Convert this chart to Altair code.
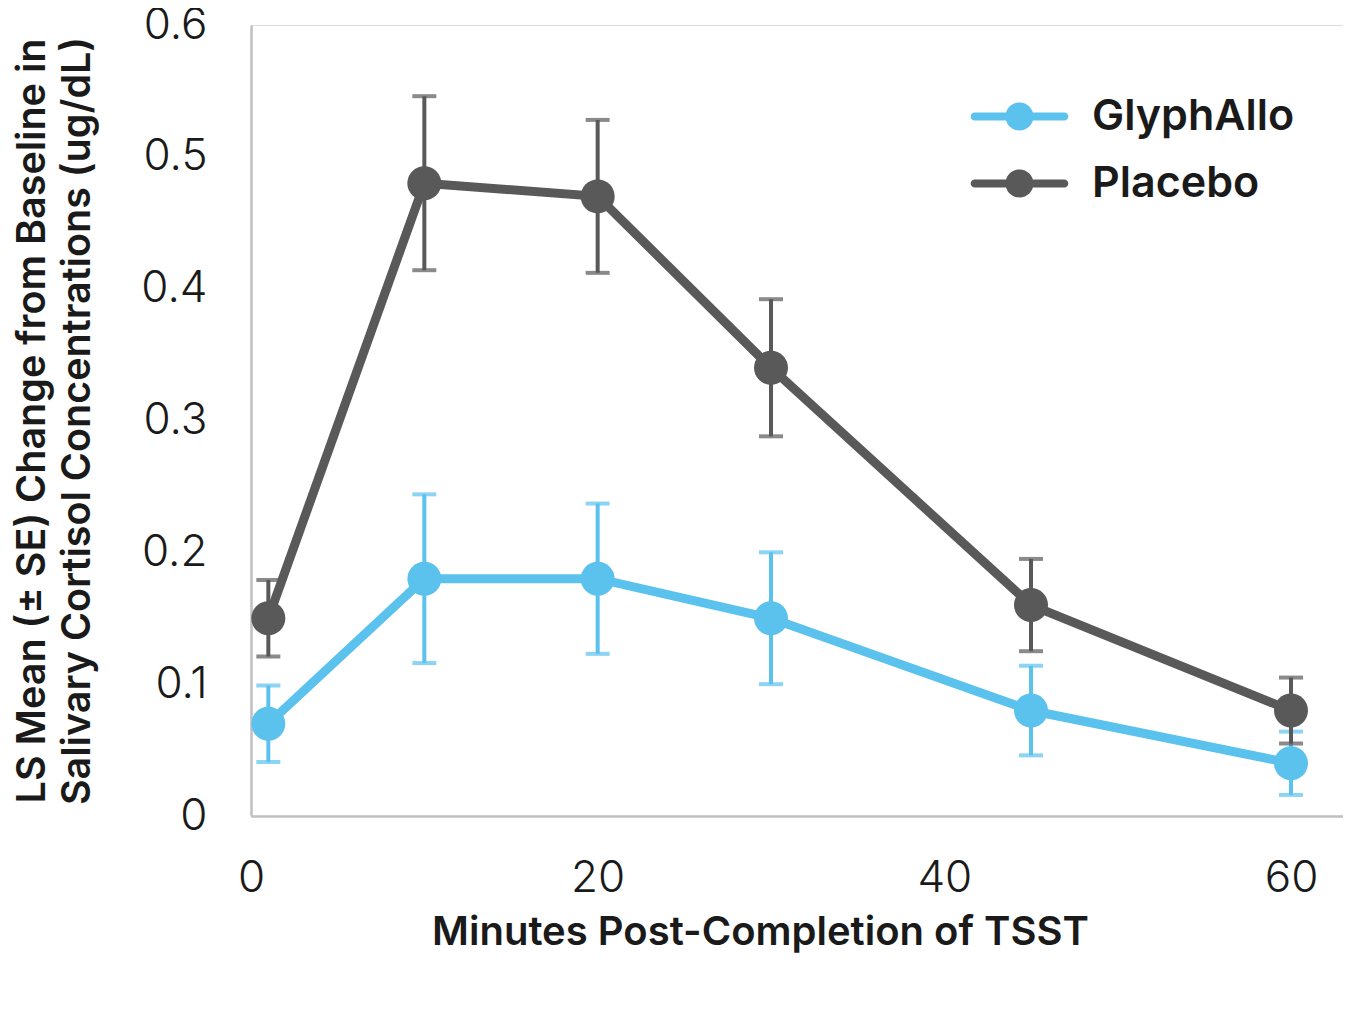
import altair as alt
import pandas as pd

minutes = [1, 10, 20, 30, 45, 60]
glyph_mean = [0.07, 0.18, 0.18, 0.15, 0.08, 0.04]
glyph_se = [0.029, 0.064, 0.057, 0.050, 0.034, 0.024]
placebo_mean = [0.15, 0.48, 0.47, 0.34, 0.16, 0.08]
placebo_se = [0.029, 0.066, 0.058, 0.052, 0.035, 0.025]
series = ["GlyphAllo", "Placebo"]
colors = ["#5BC2EE", "#595959"]
x_ticks = [0, 20, 40, 60]
y_ticks = [0, 0.1, 0.2, 0.3, 0.4, 0.5, 0.6]

rows = []
for name, means, ses in [(series[0], glyph_mean, glyph_se), (series[1], placebo_mean, placebo_se)]:
    for m, v, s in zip(minutes, means, ses):
        rows.append({"group": name, "minutes": m, "mean": v, "lo": v - s, "hi": v + s})
df = pd.DataFrame(rows)

FONT = "Inter"

legend_path = (
    "M-3.2,-0.29 H3.2 A0.29,0.29 0 0,1 3.2,0.29 H-3.2 A0.29,0.29 0 0,1 -3.2,-0.29 Z "
    "M-1,0 A1,1 0 1,1 1,0 A1,1 0 1,1 -1,0 Z"
)

color = alt.Color(
    "group:N",
    scale=alt.Scale(domain=series, range=colors),
    legend=alt.Legend(
        title=None,
        orient="none",
        legendX=747,
        legendY=70,
        symbolType=legend_path,
        symbolSize=784,
        symbolStrokeWidth=0,
        symbolOpacity=1,
        labelFont=FONT,
        labelFontSize=43,
        labelFontWeight=600,
        labelColor="#1a1a1a",
        labelOffset=51,
        labelLimit=0,
        rowPadding=23,
        padding=0,
    ),
)

x_enc = alt.X(
    "minutes:Q",
    scale=alt.Scale(domain=[0, 63], nice=False),
    axis=alt.Axis(
        values=x_ticks,
        title="Minutes Post-Completion of TSST",
        grid=False,
        ticks=False,
        domainColor="#BFBFBF",
        domainWidth=2.5,
        labelFont=FONT,
        labelFontSize=44,
        labelFontWeight=300,
        labelColor="#1a1a1a",
        labelPadding=40,
        labelFlush=False,
        titleFont=FONT,
        titleFontSize=40,
        titleFontWeight=600,
        titleColor="#1a1a1a",
        titlePadding=12,
        titleX=509,
    ),
)
y_enc = alt.Y(
    "mean:Q",
    scale=alt.Scale(domain=[0, 0.6], nice=False),
    axis=alt.Axis(
        values=y_ticks,
        format=".1~f",
        title=["LS Mean (± SE) Change from Baseline in", "Salivary Cortisol Concentrations (ug/dL)"],
        grid=False,
        ticks=False,
        domainColor="#BFBFBF",
        domainWidth=2.5,
        labelFont=FONT,
        labelFontSize=44,
        labelFontWeight=300,
        labelColor="#1a1a1a",
        labelPadding=44,
        labelFlush=False,
        titleFont=FONT,
        titleFontSize=39.5,
        titleFontWeight=600,
        titleColor="#1a1a1a",
        titlePadding=43,
        titleLineHeight=45,
    ),
)

layers = []
for name, col in zip(series, colors):
    sub = alt.Chart(df).transform_filter(alt.datum.group == name)
    layers.append(
        sub.mark_rule(strokeWidth=4, color=col).encode(x="minutes:Q", y="lo:Q", y2="hi:Q")
    )
    layers.append(
        sub.mark_tick(orient="horizontal", size=24, thickness=4, color=col).encode(
            x="minutes:Q", y="lo:Q"
        )
    )
    layers.append(
        sub.mark_tick(orient="horizontal", size=24, thickness=4, color=col).encode(
            x="minutes:Q", y="hi:Q"
        )
    )
    layers.append(
        sub.mark_line(strokeWidth=9, color=col).encode(x=x_enc, y=y_enc)
    )
    layers.append(
        sub.mark_point(filled=True, size=1156, opacity=1, shape="circle").encode(
            x="minutes:Q", y="mean:Q", color=color
        )
    )

chart = (
    alt.layer(*layers)
    .properties(
        width=1092,
        height=791,
        padding={"left": 243, "top": 17, "right": 0, "bottom": 150},
        autosize=alt.AutoSizeParams(type="none"),
    )
    .configure_view(stroke=None)
    .configure(background="white")
)

chart.save("out.html", embed_options={"renderer": "svg", "actions": False})
